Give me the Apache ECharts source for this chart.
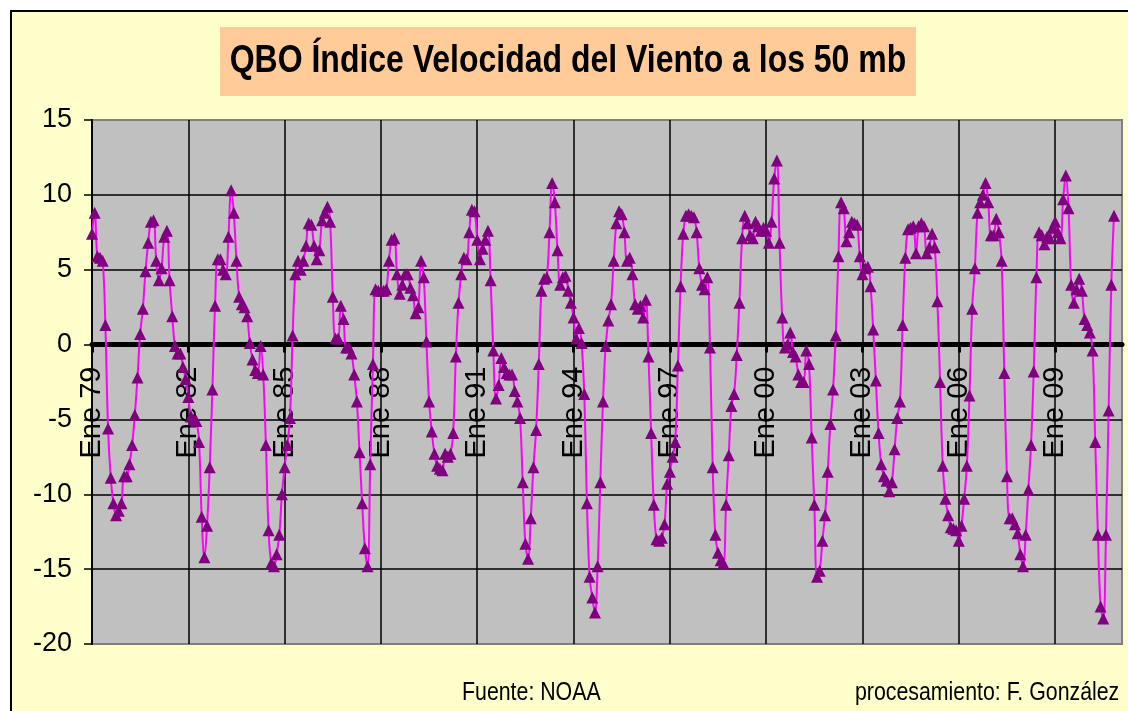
<!DOCTYPE html>
<html>
<head>
<meta charset="utf-8">
<script src="https://cdn.jsdelivr.net/npm/echarts@6/dist/echarts.min.js"></script>
<style>
  html, body { margin: 0; padding: 0; background: #fff; width: 1128px; height: 711px; overflow: hidden; }
  #frame { position: absolute; left: 10px; top: 10px; width: 1140px; height: 720px; border: 2px solid #000; background: #FFFFCC; }
  #chart { position: absolute; left: 0; top: 0; width: 1128px; height: 711px; }
</style>
</head>
<body>
<div id="frame"></div>
<div id="chart"></div>
<script>
// Textos
const titulo = 'QBO Índice Velocidad del Viento a los 50 mb'
const fuente = 'Fuente: NOAA'
const procesamiento = 'procesamiento: F. González'

// Meses y años del eje (ene 1979 - feb 2011)
const meses = ['Ene', 'Feb', 'Mar', 'Abr', 'May', 'Jun', 'Jul', 'Ago', 'Sep', 'Oct', 'Nov', 'Dic']
const anioInicio = 1979
const totalMeses = 386

// Índice QBO 50 mb, valores mensuales (bloques de 3 años)
const qbo1979 = [
  7.4, 8.8, 5.9, 5.8, 5.6, 1.3, -5.6, -8.9, -10.6, -11.4, -11.1, -10.6,
  -8.8, -8.8, -8.0, -6.7, -4.7, -2.2, 0.7, 2.4, 4.9, 6.8, 8.2, 8.3,
  5.6, 4.3, 5.1, 7.2, 7.6, 4.3, 1.9, -0.1, -0.6, -0.6, -1.5, -2.3
]
const qbo1982 = [
  -3.5, -4.8, -5.0, -5.1, -6.5, -11.5, -14.2, -12.1, -8.2, -3.0, 2.6, 5.7,
  5.7, 5.0, 4.7, 7.2, 10.3, 8.8, 5.6, 3.2, 2.7, 2.5, 1.9, 0.1,
  -1.0, -1.7, -1.9, -0.1, -2.0, -6.7, -12.4, -14.6, -14.8, -14.0, -12.7, -10.0
]
const qbo1985 = [
  -8.2, -6.7, -4.9, 0.6, 4.7, 5.6, 5.0, 5.6, 6.6, 8.1, 8.0, 6.6,
  5.7, 6.3, 8.3, 8.8, 9.2, 8.2, 3.2, 0.4, 0.4, 2.6, 1.7, -0.2,
  -0.2, -0.6, -2.0, -3.8, -7.2, -10.6, -13.6, -14.8, -8.0, -1.3, 3.7, 3.6
]
const qbo1988 = [
  3.6, 3.6, 3.7, 5.6, 7.0, 7.1, 4.7, 3.4, 4.0, 4.7, 4.7, 3.8,
  3.3, 2.1, 2.5, 5.6, 4.5, 0.2, -3.8, -5.8, -7.3, -8.1, -8.3, -8.4,
  -7.3, -7.5, -7.3, -5.9, -0.8, 2.8, 4.7, 5.8, 5.7, 7.5, 9.0, 8.9
]
const qbo1991 = [
  7.0, 5.7, 6.4, 7.0, 7.6, 4.3, -0.4, -3.6, -2.7, -0.9, -1.5, -1.9,
  -2.0, -2.0, -3.1, -3.8, -4.9, -9.2, -13.3, -14.3, -11.6, -8.2, -5.7, -1.3,
  3.6, 4.4, 4.5, 7.5, 10.8, 9.5, 6.3, 4.0, 4.5, 4.6, 3.6, 2.8
]
const qbo1994 = [
  1.8, 0.4, 1.1, 0.1, -3.3, -10.6, -15.5, -16.9, -17.9, -14.8, -9.2, -3.8,
  -0.1, 1.6, 2.7, 5.6, 8.1, 8.9, 8.7, 7.5, 5.6, 5.8, 4.7, 2.7,
  2.4, 2.6, 1.8, 3.0, -0.8, -5.9, -10.7, -13.0, -13.1, -12.9, -12.0, -9.3
]
const qbo1997 = [
  -8.5, -7.5, -6.5, -1.4, 3.9, 7.4, 8.6, 8.7, 8.6, 8.5, 7.5, 5.1,
  4.0, 3.7, 4.5, -0.2, -8.2, -12.7, -13.9, -14.4, -14.6, -10.7, -7.4, -4.1,
  -3.3, -0.7, 2.8, 7.1, 8.6, 8.1, 7.3, 7.1, 8.2, 7.9, 7.6, 7.8
]
const qbo2000 = [
  7.6, 6.8, 8.2, 11.1, 12.3, 6.8, 1.8, -0.2, 0.0, 0.8, -0.5, -0.8,
  -2.0, -2.5, -2.5, -0.4, -1.3, -6.2, -10.7, -15.5, -15.1, -13.1, -11.4, -8.5,
  -5.3, -3.0, 0.6, 5.9, 9.5, 9.1, 6.9, 7.5, 8.2, 8.1, 8.0, 5.9
]
const qbo2003 = [
  4.7, 5.1, 5.2, 3.9, 1.0, -2.4, -5.9, -8.0, -8.8, -9.1, -9.8, -9.2,
  -7.0, -4.9, -3.8, 1.3, 5.8, 7.7, 7.8, 7.9, 6.1, 7.9, 8.1, 7.9,
  6.1, 6.5, 7.4, 6.5, 2.9, -2.5, -8.1, -10.3, -11.4, -12.2, -12.3, -12.4
]
const qbo2006 = [
  -13.1, -12.1, -10.3, -8.1, -3.4, 2.4, 5.1, 8.8, 9.5, 10.0, 10.8, 9.5,
  7.3, 7.3, 8.4, 7.5, 5.6, -1.9, -8.8, -11.6, -11.6, -12.0, -12.6, -14.0,
  -14.8, -12.7, -9.7, -6.7, -1.8, 4.5, 7.5, 7.3, 6.7, 7.2, 7.1, 7.8
]
const qbo2009 = [
  8.2, 7.5, 7.1, 9.7, 11.3, 9.1, 4.0, 2.8, 3.7, 4.4, 3.6, 1.7,
  1.3, 0.8, -0.4, -6.5, -12.7, -17.5, -18.3, -12.7, -4.4, 4.0, 8.6
]

// Eje Y
const yMin = -20
const yMax = 15
const yPaso = 5

// categorías mensuales tipo "Ene 79"
const categorias = []
for (let i = 0; i < totalMeses; i++) {
  const anio = anioInicio + Math.floor(i / 12)
  categorias.push(meses[i % 12] + ' ' + String(anio).slice(2))
}

const valores = [].concat(qbo1979, qbo1982, qbo1985, qbo1988, qbo1991, qbo1994,
  qbo1997, qbo2000, qbo2003, qbo2006, qbo2009)
while (valores.length < totalMeses) valores.push(null)

const fuenteTexto = '"Liberation Sans", Arial, sans-serif'

// área de trazado
const gridTop = 120
const gridBottom = 644
// el eje de categorías cruza en 0: desplazarlo desde el borde inferior
const yCero = gridTop + (yMax / (yMax - yMin)) * (gridBottom - gridTop)
const desplazamientoEje = -(gridBottom - yCero)

const chart = echarts.init(document.getElementById('chart'), null, { renderer: 'canvas' })

chart.setOption({
  animation: false,
  backgroundColor: 'transparent',
  grid: {
    left: 92,
    right: 6,
    top: gridTop,
    bottom: 711 - gridBottom,
    outerBoundsMode: 'none',
    containLabel: false,
    show: true,
    backgroundColor: '#C0C0C0',
    borderColor: '#808080',
    borderWidth: 2
  },
  xAxis: {
    type: 'category',
    data: categorias,
    boundaryGap: false,
    position: 'bottom',
    offset: desplazamientoEje,
    axisLine: { onZero: false, lineStyle: { color: '#000', width: 5 } },
    axisTick: { interval: 35, length: 8, lineStyle: { color: '#000', width: 3 } },
    axisLabel: {
      interval: 35,
      rotate: 90,
      margin: 22,
      fontFamily: fuenteTexto,
      fontSize: 29,
      color: '#000'
    },
    splitLine: { show: true, interval: 35, lineStyle: { color: '#000', width: 1.5 } }
  },
  yAxis: {
    type: 'value',
    min: yMin,
    max: yMax,
    interval: yPaso,
    axisLine: { show: true, lineStyle: { color: '#000', width: 2 } },
    axisTick: { show: true, length: 8, lineStyle: { color: '#000', width: 1.5 } },
    axisLabel: { margin: 20, fontFamily: fuenteTexto, fontSize: 27, color: '#000' },
    splitLine: { show: true, showMinLine: false, showMaxLine: false, lineStyle: { color: '#000', width: 1.5 } }
  },
  series: [
    {
      name: 'QBO 50 mb',
      type: 'line',
      data: valores,
      smooth: 0.4,
      showAllSymbol: true,
      symbol: 'triangle',
      symbolSize: 12,
      connectNulls: false,
      lineStyle: { color: '#FF00FF', width: 2 },
      itemStyle: { color: '#800080', borderWidth: 0 }
    }
  ],
  graphic: [
    {
      type: 'rect',
      left: 220,
      top: 27,
      shape: { width: 696, height: 69 },
      style: { fill: '#FFCC99' }
    },
    {
      type: 'text',
      x: 568,
      y: 61,
      scaleX: 0.82,
      style: {
        text: titulo,
        fontFamily: fuenteTexto,
        fontWeight: 'bold',
        fontSize: 39,
        fill: '#000',
        align: 'center',
        verticalAlign: 'middle'
      }
    },
    {
      type: 'text',
      x: 462,
      y: 693,
      scaleX: 0.82,
      style: { text: fuente, fontFamily: fuenteTexto, fontSize: 26, fill: '#000', align: 'left', verticalAlign: 'middle' }
    },
    {
      type: 'text',
      x: 855,
      y: 693,
      scaleX: 0.82,
      style: { text: procesamiento, fontFamily: fuenteTexto, fontSize: 26, fill: '#000', align: 'left', verticalAlign: 'middle' }
    }
  ]
})
</script>
</body>
</html>
